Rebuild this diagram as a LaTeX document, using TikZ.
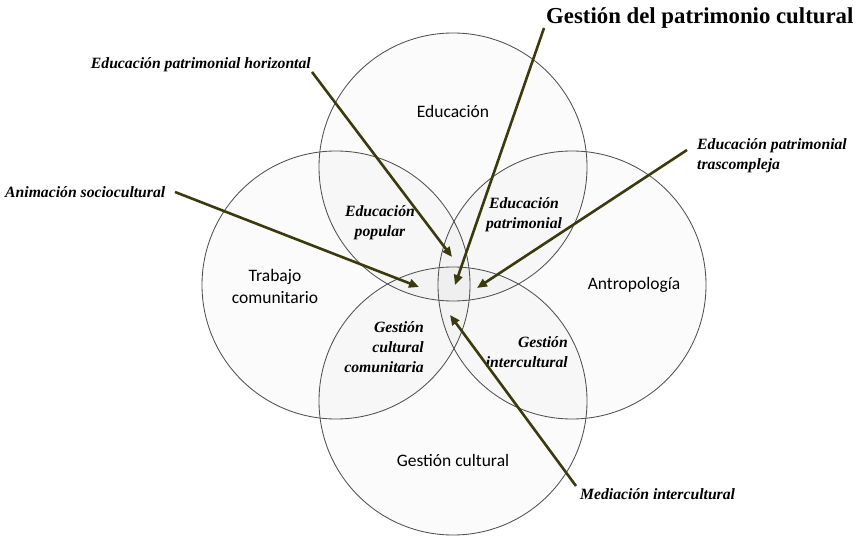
\documentclass[tikz,border=0pt]{standalone}
\usepackage{fontspec}
\setmainfont{Liberation Serif}
\newfontfamily\calib{Carlito}
\usetikzlibrary{arrows.meta}
\definecolor{arrowcol}{RGB}{58,58,12}
\definecolor{ringcol}{RGB}{80,80,80}
\tikzset{
  ring/.style={draw=ringcol, line width=0.85bp},
  ringfill/.style={fill=black, fill opacity=0.016},
  pointer/.style={draw=arrowcol, line width=2.6bp, -{Triangle[length=10bp,width=8.5bp]}},
  sanslbl/.style={font=\calib\fontsize{17.5bp}{22bp}\selectfont, align=center, inner sep=0},
  innerlbl/.style={font=\bfseries\itshape\fontsize{15.7bp}{20bp}\selectfont, inner sep=0},
  outerlbl/.style={font=\bfseries\itshape\fontsize{15.7bp}{20bp}\selectfont, inner sep=0},
}
\begin{document}
\begin{tikzpicture}[x=1bp,y=-1bp]
\useasboundingbox (0,0) rectangle (857,537);
% circle centres
\coordinate (cT) at (453,167);
\coordinate (cB) at (453,401);
\coordinate (cL) at (336,285);
\coordinate (cR) at (572,285);
\foreach \c in {cT,cB,cL,cR}{\fill[ringfill] (\c) circle (134bp);}
\foreach \c in {cT,cB,cL,cR}{\draw[ring] (\c) circle (134bp);}

% sans labels
\node[sanslbl] (edu) at (453,111) {Educación};
\node[sanslbl] (trab) at (275,286) {Trabajo\\comunitario};
\node[sanslbl] (antro) at (634,285) {Antropología};
\node[sanslbl] (gcult) at (453,460) {Gestión cultural};

% inner italic labels
\node[innerlbl, align=center] (epop) at (380,222.5) {Educación\\popular};
\node[innerlbl, align=center] (epat) at (524,215) {Educación\\patrimonial};
\node[innerlbl, align=right, anchor=east] (gcc) at (424,347) {Gestión\\cultural\\comunitaria};
\node[innerlbl, align=right, anchor=east] (gint) at (568,352) {Gestión\\intercultural};

% outer labels
\node[outerlbl, anchor=east] (eph) at (311,65) {Educación patrimonial horizontal};
\node[outerlbl, anchor=west] (asc) at (5,192) {Animación sociocultural};
\node[font=\bfseries\fontsize{22.8bp}{26bp}\selectfont, inner sep=0, anchor=west] (gpc) at (546,18) {Gestión del patrimonio cultural};
\node[outerlbl, anchor=west, align=left] (ept) at (697,156) {Educación patrimonial\\trascompleja};
\node[outerlbl, anchor=west] (med) at (580,494) {Mediación intercultural};

% arrow ends
\coordinate (s1) at (312,72);   \coordinate (t1) at (452,257);
\coordinate (s2) at (175,192);  \coordinate (t2) at (419,287);
\coordinate (s3) at (544,28);   \coordinate (t3) at (455,285);
\coordinate (s4) at (687,150);  \coordinate (t4) at (477,288);
\coordinate (s5) at (576,486);  \coordinate (t5) at (450,315);
\draw[pointer] (s1) -- (t1);
\draw[pointer] (s2) -- (t2);
\draw[pointer] (s3) -- (t3);
\draw[pointer] (s4) -- (t4);
\draw[pointer] (s5) -- (t5);
\end{tikzpicture}
\end{document}
